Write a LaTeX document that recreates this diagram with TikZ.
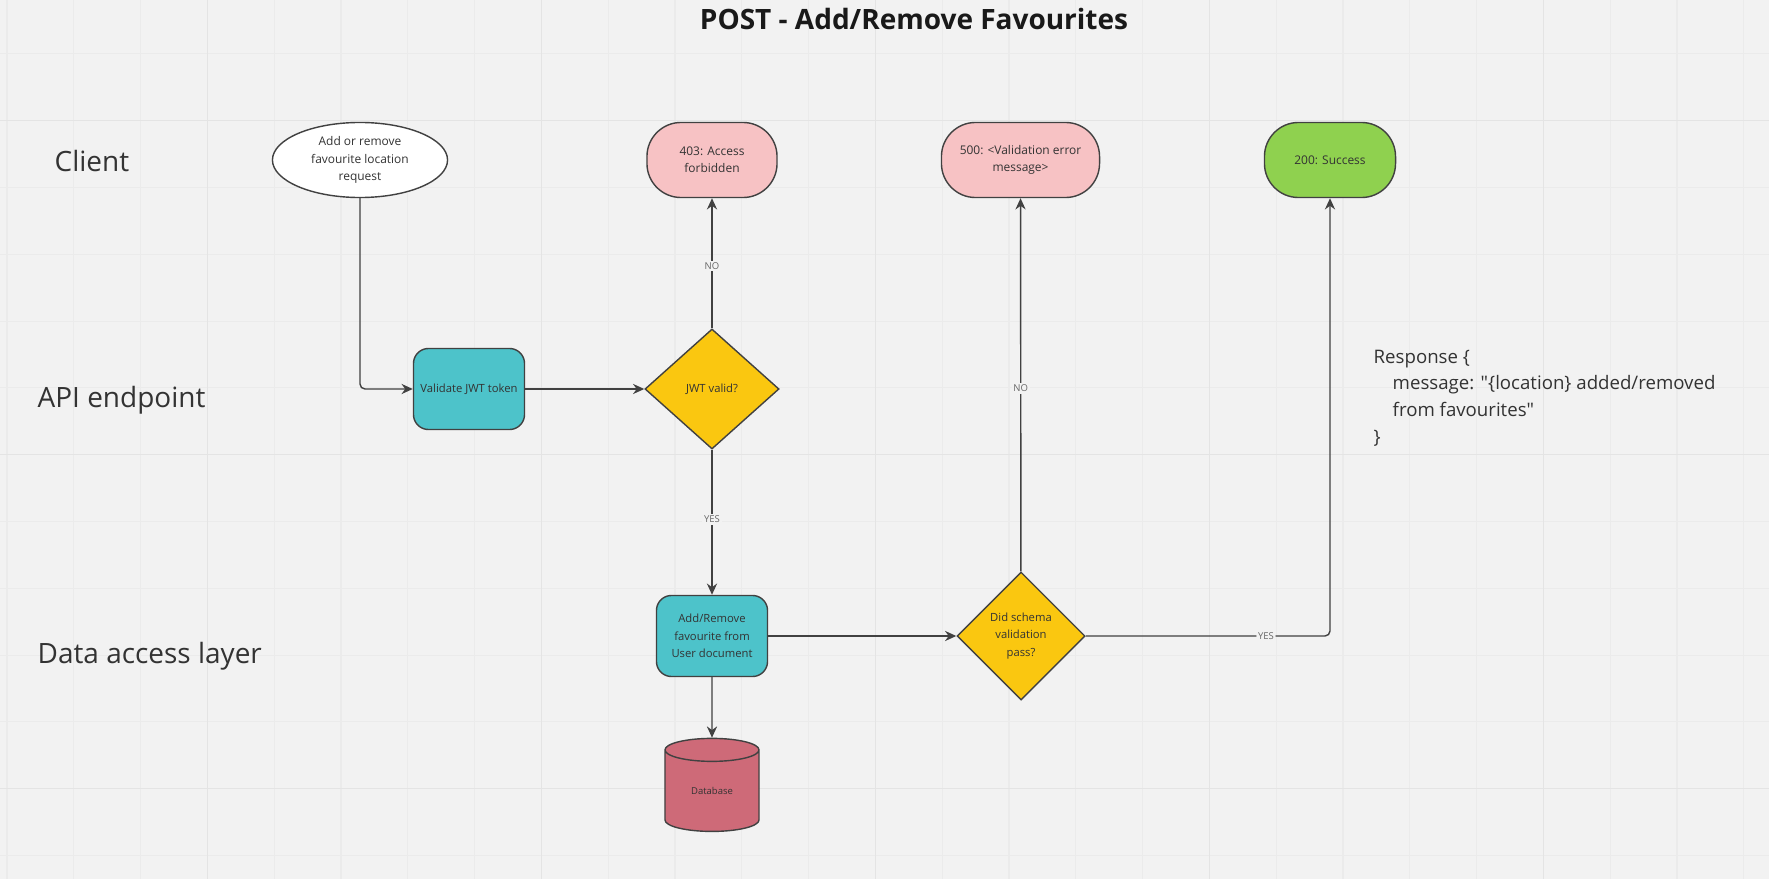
\documentclass[tikz,border=0pt]{standalone}
\usepackage{fontspec}
\setmainfont{Open Sans}
\newfontfamily\rawfont{Open Sans}
\usetikzlibrary{shapes.geometric,arrows.meta}
\definecolor{boardbg}{HTML}{F2F2F2}
\definecolor{gridminor}{HTML}{EBEBEB}
\definecolor{gridmajor}{HTML}{E4E4E4}
\definecolor{edgecol}{HTML}{414141}
\definecolor{inkcol}{HTML}{333333}
\definecolor{tealfill}{HTML}{4DC3CA}
\definecolor{yellowfill}{HTML}{FAC710}
\definecolor{pinkfill}{HTML}{F7C2C4}
\definecolor{greenfill}{HTML}{8FD14F}
\definecolor{dbfill}{HTML}{CE6A78}
\tikzset{
    shapebase/.style={draw=edgecol, line width=0.4pt, text=inkcol, align=center, inner sep=0pt,
        execute at begin node={\vspace*{0.8pt}}, font=\fontsize{3.2}{4.9}\selectfont},
    tealbox/.style={shapebase, rectangle, rounded corners=0.15cm, fill=tealfill,
        minimum width=1.11cm, minimum height=0.81cm},
    endbox/.style={shapebase, rectangle, rounded corners=0.34cm, minimum height=0.75cm,
        font=\fontsize{3.4}{4.9}\selectfont},
    question/.style={shapebase, diamond, fill=yellowfill},
    lanelabel/.style={anchor=west, inner sep=0pt, text=inkcol, font=\fontsize{7.95}{10}\selectfont},
    flow/.style={draw=edgecol, line width=0.4pt, -{Stealth[length=3.2pt,width=2.9pt]}},
    answer/.style={fill=boardbg, inner sep=0.5pt, text=black!60, font=\fontsize{2.7}{3.2}\selectfont}
}
\begin{document}
\begin{tikzpicture}[x=0.01cm,y=-0.01cm]
    \useasboundingbox (0,0) rectangle (1769,879);
    \fill[boardbg] (0,0) rectangle (1769,879);
    % board grid
    \foreach \k in {0,...,26} {
        \draw[gridminor, line width=0.3pt] ({7+66.8*\k},0) -- ({7+66.8*\k},879);
    }
    \foreach \k in {0,...,12} {
        \draw[gridminor, line width=0.3pt] (0,{53.9+66.8*\k}) -- (1769,{53.9+66.8*\k});
    }
    \foreach \k in {3,8,13,18,23} {
        \draw[gridmajor, line width=0.4pt] ({7+66.8*\k},0) -- ({7+66.8*\k},879);
    }
    \foreach \k in {1,6,11} {
        \draw[gridmajor, line width=0.4pt] (0,{53.9+66.8*\k}) -- (1769,{53.9+66.8*\k});
    }

    \node[inner sep=0pt, text=black!90, font=\fontsize{7.96}{10}\selectfont\bfseries] (title) at (914,19) {POST - Add/Remove Favourites};

    \node[lanelabel] (client) at (54,161) {Client};
    \node[lanelabel] (api) at (37,400) {API endpoint};
    \node[lanelabel] (dal) at (37,656) {Data access layer};

    \node[shapebase, ellipse, fill=white, minimum width=1.75cm, minimum height=0.75cm, font=\fontsize{3.4}{4.9}\selectfont] (request) at (360,160) {Add or remove\\favourite location\\request};
    \node[endbox, fill=pinkfill, minimum width=1.30cm] (forbidden) at (712,160) {403: Access\\forbidden};
    \node[endbox, fill=pinkfill, minimum width=1.58cm] (invalid) at (1020.5,160) {500: <Validation error\\message>};
    \node[endbox, fill=greenfill, minimum width=1.31cm] (success) at (1330,160) {200: Success};

    \node[tealbox] (validate) at (469,389) {Validate JWT token};
    \node[question, minimum width=1.34cm, minimum height=1.20cm] (jwt) at (712,389) {JWT valid?};
    \node[tealbox] (update) at (712,636) {Add/Remove\\favourite from\\User document};
    \node[question, minimum width=1.28cm, minimum height=1.28cm] (schema) at (1021,636) {Did schema\\validation\\pass?};
    \node[shapebase, cylinder, shape border rotate=90, aspect=0.55, fill=dbfill, minimum width=0.94cm, minimum height=0.93cm, font=\fontsize{2.7}{3.4}\selectfont] (db) at (712,791) {Database};

    \node[anchor=west, inner sep=0pt, align=left, text=inkcol, font=\fontsize{5.3}{7.55}\selectfont\rawfont] (response) at (1373,398) {Response \{\\\hspace{0.19cm}message: "\{location\} added/removed\\\hspace{0.19cm}from favourites"\\\}};

    \draw[flow, rounded corners=0.05cm] (request.south) |- (validate.west);
    \draw[flow] (validate) -- (jwt);
    \draw[flow] (jwt) -- (forbidden) node[answer, pos=.48] (no1) {NO};
    \draw[flow] (jwt) -- (update) node[answer, pos=.48] (yes1) {YES};
    \draw[flow] (update) -- (schema);
    \draw[flow] (update) -- (db);
    \draw[flow] (schema) -- (invalid) node[answer, pos=.49] (no2) {NO};
    \draw[flow, rounded corners=0.05cm] (schema.east) -| (success.south) node[answer, pos=.369] (yes2) {YES};
\end{tikzpicture}
\end{document}
